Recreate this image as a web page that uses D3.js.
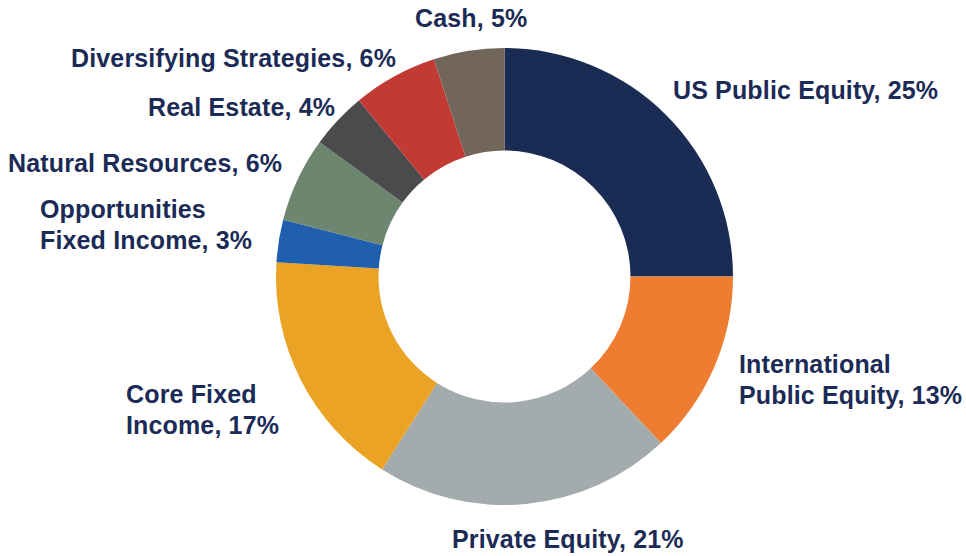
<!DOCTYPE html>
<html>
<head>
<meta charset="utf-8">
<script src="https://cdn.jsdelivr.net/npm/d3@7"></script>
<style>
  html, body { margin: 0; padding: 0; background: #fff; }
  svg { display: block; }
  text { font-family: "Liberation Sans", Arial, Helvetica, sans-serif; font-weight: bold; fill: #1b2b56; }
</style>
</head>
<body>
<svg id="chart" width="966" height="556"></svg>
<script>
const categories = ["US Public Equity", "International Public Equity", "Private Equity", "Core Fixed Income",
  "Opportunities Fixed Income", "Natural Resources", "Real Estate", "Diversifying Strategies", "Cash"];
const values = [25, 13, 21, 17, 3, 6, 4, 6, 5];
const colors = ["#1a2b54", "#ee7d31", "#a4abac", "#eaa325", "#1f5fae", "#6d8670", "#4b4b4d", "#c13b34", "#72655a"];
const labelLines = [
  ["US Public Equity, 25%"],
  ["International", "Public Equity, 13%"],
  ["Private Equity, 21%"],
  ["Core Fixed", "Income, 17%"],
  ["Opportunities", "Fixed Income, 3%"],
  ["Natural Resources, 6%"],
  ["Real Estate, 4%"],
  ["Diversifying Strategies, 6%"],
  ["Cash, 5%"]
];
const labelPos = [
  [673, 99], [739, 373], [452, 548], [126, 403], [40, 218], [8, 172], [148, 116], [71, 67], [415, 27]
];

const svg = d3.select("#chart");
const cx = 504.5, cy = 276.5, rOuter = 228.5, rInner = 126;

const pie = d3.pie().sort(null).value(d => d)(values);
const arc = d3.arc().innerRadius(rInner).outerRadius(rOuter);

const g = svg.append("g").attr("transform", `translate(${cx},${cy})`);
g.selectAll("path").data(pie).join("path")
  .attr("d", arc)
  .attr("fill", (d, i) => colors[i]);

const lineH = 31;
svg.selectAll("text.lbl").data(labelLines).join("text")
  .attr("class", "lbl")
  .attr("x", (d, i) => labelPos[i][0])
  .attr("y", (d, i) => labelPos[i][1])
  .attr("font-size", 25)
  .attr("letter-spacing", 0.15)
  .each(function(lines, i) {
    d3.select(this).selectAll("tspan").data(lines).join("tspan")
      .attr("x", labelPos[i][0])
      .attr("dy", (l, j) => j === 0 ? 0 : lineH)
      .text(l => l);
  });
</script>
</body>
</html>
